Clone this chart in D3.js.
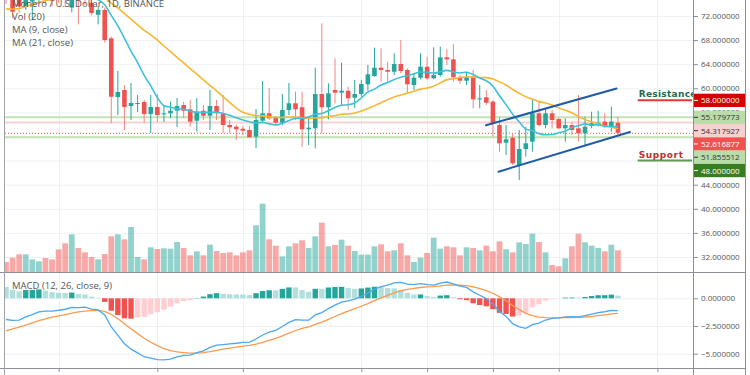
<!DOCTYPE html>
<html>
<head>
<meta charset="utf-8">
<script src="https://cdn.jsdelivr.net/npm/d3@7"></script>
<style>
body { margin: 0; background: #fff; }
svg { display: block; font-family: "Open Sans", sans-serif; }
</style>
</head>
<body>
<script>
var startDate = Date.UTC(2019, 8, 8); // first visible daily candle
var dayMs = 86400000;

var opens = [77.0, 75.5, 76.0, 73.6, 74.4, 75.0, 77.2, 76.8, 76.5, 77.0, 73.4, 77.0, 76.5, 74.2, 72.2, 73.0, 68.3, 58.56, 59.72, 57.06,
    57.40, 57.73, 55.73, 56.90, 55.68, 55.85, 56.28, 57.23, 56.51, 54.62, 56.28, 55.45, 57.06, 55.85, 53.91, 53.63, 53.29, 53.08, 51.97, 54.62,
    55.85, 55.19, 54.29, 56.40, 57.51, 56.85, 53.19, 53.36, 59.05, 56.85, 59.72, 59.27, 59.60, 58.44, 59.05, 60.66, 62.04, 63.42, 63.04, 62.75,
    64.03, 63.04, 60.55, 61.76, 63.58, 61.66, 62.21, 65.14, 64.81, 61.83, 61.26, 61.93, 58.17, 58.51, 57.78, 53.91, 50.97, 51.80, 47.27, 49.92,
    51.14, 55.85, 53.91, 55.85, 54.90, 53.36, 53.91, 53.36, 52.53, 53.74, 54.03, 54.46, 53.74, 54.29];
var highs = [77.8, 76.2, 76.8, 77.5, 77.0, 77.6, 78.0, 77.4, 77.2, 77.6, 77.0, 77.6, 77.0, 75.4, 73.6, 73.4, 68.6, 62.87, 60.55, 60.88,
    58.89, 58.06, 58.89, 59.05, 57.23, 57.78, 58.39, 57.78, 58.06, 58.39, 57.23, 59.72, 58.06, 58.89, 54.74, 53.91, 53.74, 53.74, 56.56, 61.21,
    60.05, 55.40, 59.05, 60.88, 59.44, 59.44, 55.29, 63.42, 70.79, 60.83, 64.98, 64.25, 60.27, 61.38, 61.38, 63.87, 66.74, 66.64, 64.41, 65.81,
    68.02, 63.32, 62.49, 65.81, 65.24, 66.80, 66.90, 66.47, 67.35, 62.21, 62.75, 63.04, 60.55, 59.72, 58.06, 55.29, 53.91, 52.58, 53.08, 53.63,
    58.06, 57.78, 56.68, 56.40, 55.07, 55.02, 54.41, 58.89, 55.29, 56.12, 56.28, 55.85, 56.95, 55.29];
var lows = [74.0, 71.6, 72.5, 73.0, 71.4, 74.2, 74.0, 73.6, 74.2, 73.5, 72.6, 70.6, 73.8, 72.1, 70.6, 67.6, 54.2, 55.57, 53.08, 54.74,
    56.07, 54.24, 52.58, 54.41, 54.41, 55.07, 53.58, 55.07, 53.63, 52.80, 54.74, 53.08, 54.74, 52.58, 52.58, 51.42, 52.25, 51.75, 50.09, 54.19,
    54.74, 54.07, 53.91, 55.57, 54.74, 50.31, 50.59, 50.04, 52.53, 54.85, 57.51, 57.06, 56.40, 56.73, 58.61, 59.60, 61.93, 61.10, 61.10, 62.21,
    62.49, 59.05, 59.72, 61.49, 61.38, 61.49, 61.93, 63.87, 61.10, 60.71, 60.55, 56.68, 56.68, 57.23, 51.97, 49.48, 48.93, 47.27, 44.78, 48.65,
    49.48, 53.63, 53.36, 53.36, 53.24, 51.14, 52.25, 51.14, 50.59, 53.36, 53.63, 53.36, 52.80, 52.25];
var closes = [74.8, 72.7, 73.6, 76.8, 76.2, 77.0, 75.3, 74.5, 75.2, 75.5, 76.6, 74.6, 75.0, 72.5, 73.0, 68.0, 58.6, 59.39, 56.90, 57.56,
    57.56, 55.73, 56.90, 55.57, 55.85, 56.28, 57.06, 56.28, 54.46, 56.12, 55.45, 57.06, 55.85, 53.91, 53.53, 53.19, 52.96, 51.87, 54.74, 55.85,
    55.02, 54.29, 56.40, 57.51, 56.51, 53.19, 53.46, 59.05, 56.85, 59.17, 59.27, 59.60, 58.34, 59.05, 60.71, 62.32, 63.42, 63.04, 62.75, 64.03,
    62.87, 60.66, 61.76, 63.58, 61.66, 62.21, 65.14, 64.81, 61.83, 61.26, 61.83, 58.17, 58.34, 57.61, 54.19, 50.87, 51.53, 47.55, 49.92, 50.87,
    55.85, 53.91, 55.85, 54.74, 53.36, 53.91, 53.08, 52.53, 53.63, 54.19, 54.29, 53.74, 54.46, 52.616877];
var volumes = [30, 43, 53, 53, 38, 32, 42, 38, 68, 86, 113, 72, 59, 45, 38, 54, 107, 113, 98, 135,
    45, 38, 74, 69, 71, 70, 90, 72, 50, 62, 50, 82, 63, 57, 59, 50, 59, 65, 140, 205,
    98, 79, 47, 77, 86, 95, 72, 107, 148, 77, 81, 97, 79, 63, 52, 52, 77, 83, 62, 65,
    86, 50, 30, 43, 57, 103, 70, 77, 74, 50, 74, 72, 65, 79, 62, 92, 68, 59, 89, 84,
    115, 90, 59, 21, 17, 41, 77, 115, 89, 79, 72, 62, 82, 65];
// closes before the visible window, only used to warm up MA / MACD
var historyCloses = [92, 93, 92, 94, 93, 92, 91, 92, 84, 78, 74, 71, 70, 69, 70, 69, 70, 71, 72, 72,
    73, 74, 74, 75, 75, 76, 76, 77, 77, 77];

var priceTicks = [32, 36, 40, 44, 48, 52, 56, 60, 64, 68, 72];
var macdTicks = [-5, -2.5, 0];
var timeTicks = ["2019-09-16", "2019-10-01", "2019-10-14", "2019-11-01", "2019-11-11", "2019-11-21", "2019-12-01", "2019-12-16"];

var levelValues = [55.179773, 54.317927, 51.855512];
var lastPrice = 52.616877;
var resistance = 58;
var support = 48;
// channel drawings: [day offset, price] pairs
var trendlines = [[[72.95, 53.86], [92.8, 59.97]], [[74.85, 46.16], [94.83, 52.75]]];

var w = 750, h = 375;
var left = 5, right = 693, axisEnd = 745.5;
var mainBottom = 272, macdBottom = 368;

var up = "#26a69a", down = "#ef5350";
var textColor = "#555";

function dayDate(d) { return new Date(startDate + d * dayMs); }
var dates = closes.map(function (c, i) { return dayDate(i); });

// indicators
function sma(values, n) {
    return values.map(function (v, i) {
        return i < n - 1 ? null : d3.mean(values.slice(i - n + 1, i + 1));
    });
}
function ema(values, n) {
    var a = 2 / (n + 1), out = [], prev = values[0];
    values.forEach(function (v) { prev = a * v + (1 - a) * prev; out.push(prev); });
    return out;
}
var allCloses = historyCloses.concat(closes);
var off = historyCloses.length;
var ma9 = sma(allCloses, 9).slice(off);
var ma21 = sma(allCloses, 21).slice(off);
var e12 = ema(allCloses, 12), e26 = ema(allCloses, 26);
var macdAll = e12.map(function (v, i) { return v - e26[i]; });
var signalAll = ema(macdAll, 9);
var macd = macdAll.slice(off);
var signal = signalAll.slice(off);
var histAll = macdAll.map(function (v, i) { return v - signalAll[i]; });
var hist = histAll.slice(off);

var svg = d3.select("body").append("svg").attr("width", w).attr("height", h);

var x = d3.scaleUtc().domain([dayDate(0), dayDate(99)]).range([6, 657.4]);
var y = d3.scaleLinear().domain([32, 72]).range([257, 16]);
var yVol = d3.scaleLinear().domain([0, 600]).range([mainBottom, 72]);
var yMacd = d3.scaleLinear().domain([-5, 0]).range([353.7, 298.3]);

var defs = svg.append("defs");
defs.append("clipPath").attr("id", "clipMain").append("rect")
    .attr("x", left).attr("y", 0).attr("width", right - left).attr("height", mainBottom);
defs.append("clipPath").attr("id", "clipMacd").append("rect")
    .attr("x", left).attr("y", mainBottom).attr("width", right - left).attr("height", macdBottom - mainBottom);

// grid
var grid = svg.append("g").attr("stroke", "#edf1f5").attr("stroke-width", 1);
grid.selectAll(".hg").data(priceTicks).enter().append("line")
    .attr("x1", left).attr("x2", right)
    .attr("y1", function (d) { return y(d) + 0.5; }).attr("y2", function (d) { return y(d) + 0.5; });
grid.selectAll(".mg").data(macdTicks).enter().append("line")
    .attr("x1", left).attr("x2", right)
    .attr("y1", function (d) { return yMacd(d) + 0.5; }).attr("y2", function (d) { return yMacd(d) + 0.5; });
grid.selectAll(".vg").data(timeTicks).enter().append("line")
    .attr("x1", function (d) { return Math.round(x(new Date(d))) + 0.5; })
    .attr("x2", function (d) { return Math.round(x(new Date(d))) + 0.5; })
    .attr("y1", 0).attr("y2", macdBottom);

var main = svg.append("g").attr("clip-path", "url(#clipMain)");

// volume
main.append("g").selectAll("rect").data(volumes).enter().append("rect")
    .attr("x", function (d, i) { return x(dates[i]) - 2.9; })
    .attr("width", 5.8)
    .attr("y", function (d) { return yVol(d); })
    .attr("height", function (d) { return mainBottom - yVol(d); })
    .attr("fill", function (d, i) { return closes[i] >= opens[i] ? up : down; })
    .attr("fill-opacity", 0.5);

// horizontal level lines
var levelColors = ["#c3e2b5", "#f8d2d2", "#c3e2b5"];
main.selectAll(".lvl").data(levelValues).enter().append("line")
    .attr("x1", left).attr("x2", right)
    .attr("y1", function (d) { return y(d); }).attr("y2", function (d) { return y(d); })
    .attr("stroke", function (d, i) { return levelColors[i]; })
    .attr("stroke-width", 2);
main.append("line")
    .attr("x1", left).attr("x2", right)
    .attr("y1", y(lastPrice) + 0.5).attr("y2", y(lastPrice) + 0.5)
    .attr("stroke", down).attr("stroke-width", 1).attr("stroke-dasharray", "1,2");

// candles
var candles = main.append("g").selectAll("g").data(closes).enter().append("g");
candles.append("line")
    .attr("x1", function (d, i) { return x(dates[i]); })
    .attr("x2", function (d, i) { return x(dates[i]); })
    .attr("y1", function (d, i) { return y(highs[i]); })
    .attr("y2", function (d, i) { return y(lows[i]); })
    .attr("stroke", function (d, i) { return d >= opens[i] ? up : "#f08684"; })
    .attr("stroke-width", 1);
candles.append("rect")
    .attr("x", function (d, i) { return x(dates[i]) - 2.3; })
    .attr("width", 4.6)
    .attr("y", function (d, i) { return y(Math.max(d, opens[i])); })
    .attr("height", function (d, i) { return Math.max(1, Math.abs(y(d) - y(opens[i]))); })
    .attr("fill", function (d, i) { return d >= opens[i] ? up : down; });

// moving averages
var maLine = d3.line()
    .defined(function (d) { return d != null; })
    .x(function (d, i) { return x(dates[i]); })
    .y(function (d) { return y(d); })
    .curve(d3.curveMonotoneX);
main.append("path").datum(ma21).attr("d", maLine)
    .attr("fill", "none").attr("stroke", "#f7b733").attr("stroke-width", 1.6);
main.append("path").datum(ma9).attr("d", maLine)
    .attr("fill", "none").attr("stroke", "#3fc0da").attr("stroke-width", 1.6);

// channel
main.selectAll(".trend").data(trendlines).enter().append("line")
    .attr("x1", function (d) { return x(dayDate(d[0][0])); })
    .attr("y1", function (d) { return y(d[0][1]); })
    .attr("x2", function (d) { return x(dayDate(d[1][0])); })
    .attr("y2", function (d) { return y(d[1][1]); })
    .attr("stroke", "#1f5aa6").attr("stroke-width", 2).attr("stroke-linecap", "round");

// support / resistance markers
var markerStart = x(dayDate(96));
main.append("line").attr("x1", markerStart).attr("x2", right - 1)
    .attr("y1", y(resistance)).attr("y2", y(resistance))
    .attr("stroke", "#e53935").attr("stroke-width", 2);
main.append("line").attr("x1", markerStart).attr("x2", right - 1)
    .attr("y1", y(support)).attr("y2", y(support))
    .attr("stroke", "#5b9d4c").attr("stroke-width", 2);
main.append("text").attr("x", markerStart + 1).attr("y", y(resistance) - 3.5)
    .attr("fill", "#25694f").attr("font-family", "DejaVu Sans").attr("font-weight", "bold")
    .attr("font-size", 9).attr("letter-spacing", 0.3).text("Resistance");
main.append("text").attr("x", markerStart + 1).attr("y", y(support) - 3)
    .attr("fill", "#b83330").attr("font-family", "DejaVu Sans").attr("font-weight", "bold")
    .attr("font-size", 9).attr("letter-spacing", 0.6).text("Support");

// MACD pane
var macdG = svg.append("g").attr("clip-path", "url(#clipMacd)");
macdG.append("g").selectAll("rect").data(hist).enter().append("rect")
    .attr("x", function (d, i) { return x(dates[i]) - 2.7; })
    .attr("width", 5.4)
    .attr("y", function (d) { return d >= 0 ? yMacd(d) : yMacd(0); })
    .attr("height", function (d) { return Math.abs(yMacd(d) - yMacd(0)); })
    .attr("fill", function (d, i) {
        var prev = histAll[off + i - 1];
        if (d >= 0) return d > prev ? "#26a69a" : "#b2dfdb";
        return d < prev ? "#ef5350" : "#ffcdd2";
    });
var macdLine = d3.line()
    .x(function (d, i) { return x(dates[i]); })
    .y(function (d) { return yMacd(d); });
macdG.append("path").datum(signal).attr("d", macdLine)
    .attr("fill", "none").attr("stroke", "#fb9a4f").attr("stroke-width", 1.3);
macdG.append("path").datum(macd).attr("d", macdLine)
    .attr("fill", "none").attr("stroke", "#4aa8f2").attr("stroke-width", 1.3);

// frame
var frame = svg.append("g").attr("stroke", "#8d8f96").attr("stroke-width", 1);
frame.append("line").attr("x1", 0).attr("x2", axisEnd).attr("y1", mainBottom + 0.5).attr("y2", mainBottom + 0.5);
frame.append("line").attr("x1", 0).attr("x2", axisEnd).attr("y1", macdBottom + 0.5).attr("y2", macdBottom + 0.5);
frame.append("line").attr("x1", right + 0.5).attr("x2", right + 0.5).attr("y1", 0).attr("y2", h);
frame.append("line").attr("x1", axisEnd).attr("x2", axisEnd).attr("y1", 0).attr("y2", h);
frame.append("line").attr("x1", left - 0.5).attr("x2", left - 0.5).attr("y1", 0).attr("y2", h).attr("stroke", "#a0a3aa");

// price labels on the axis, stacked so they do not overlap
var boxValues = [resistance, levelValues[0], levelValues[1], lastPrice, levelValues[2], support];
var boxBg = ["#d50000", "#b9dca9", "#f8d0d0", "#ef5350", "#b9dca9", "#377d22"];
var boxFg = ["#fff", "#333", "#333", "#fff", "#333", "#fff"];
var boxH = 13.3, prevBottom = -Infinity;
var boxes = boxValues.map(function (v, i) {
    var cy = Math.max(y(v), prevBottom + boxH / 2);
    prevBottom = cy + boxH / 2;
    return { v: v, cy: cy, i: i };
});
function covered(py) {
    return boxes.some(function (b) { return py >= b.cy - boxH / 2 && py <= b.cy + boxH / 2; });
}

// axes
function styleAxis(g) {
    g.select(".domain").remove();
    g.selectAll(".tick line").attr("stroke", "#8d8f96");
    g.selectAll(".tick text").attr("fill", textColor).attr("font-size", 8)
        .attr("font-family", "Open Sans");
}
svg.append("g").attr("transform", "translate(" + (right + 1) + ",0)")
    .call(d3.axisRight(y).tickValues(priceTicks.filter(function (t) {
        return !(covered(y(t) - 3) && covered(y(t) + 3));
    })).tickFormat(d3.format(".6f")).tickSize(4).tickPadding(3))
    .call(styleAxis);
svg.append("g").attr("transform", "translate(" + (right + 1) + ",0)")
    .call(d3.axisRight(yMacd).tickValues(macdTicks).tickFormat(d3.format(".6f")).tickSize(4).tickPadding(3))
    .call(styleAxis);
// date labels sit below the visible area, only the tick marks show
svg.append("g").attr("transform", "translate(0," + macdBottom + ")")
    .call(d3.axisBottom(x).tickValues(timeTicks.map(function (d) { return new Date(d); }))
        .tickFormat("").tickSize(4))
    .call(styleAxis);

var boxG = svg.append("g").selectAll("g").data(boxes).enter().append("g");
boxG.append("rect")
    .attr("x", right + 1).attr("width", axisEnd - right - 1.5)
    .attr("y", function (d) { return d.cy - boxH / 2; }).attr("height", boxH)
    .attr("fill", function (d) { return boxBg[d.i]; });
boxG.append("line")
    .attr("x1", right + 1).attr("x2", right + 5)
    .attr("y1", function (d) { return d.cy; }).attr("y2", function (d) { return d.cy; })
    .attr("stroke", function (d) { return boxFg[d.i]; });
boxG.append("text")
    .attr("x", right + 8).attr("y", function (d) { return d.cy + 3; })
    .attr("font-size", 8).attr("fill", function (d) { return boxFg[d.i]; })
    .text(function (d) { return d3.format(".6f")(d.v); });

// legends
var legend = [["Monero / U.S. Dollar, 1D, BINANCE", 6.5], ["Vol (20)", 20], ["MA (9, close)", 33], ["MA (21, close)", 45.5],
    ["MACD (12, 26, close, 9)", mainBottom + 17]];
svg.append("g").selectAll("text").data(legend).enter().append("text")
    .attr("x", 12).attr("y", function (d) { return d[1]; })
    .attr("font-size", 9.5).attr("fill", textColor)
    .text(function (d) { return d[0]; });
</script>
</body>
</html>
